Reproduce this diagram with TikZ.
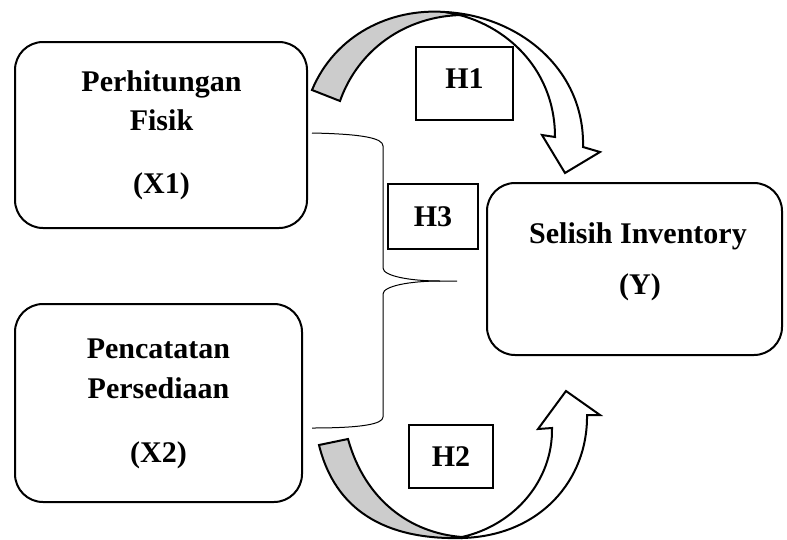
\documentclass[tikz,border=0pt]{standalone}
\usepackage{fontspec}
\setmainfont{Liberation Serif}
\begin{document}
\begin{tikzpicture}[x=1pt,y=-1pt,
  varbox/.style={draw=black,line width=2pt,rounded corners=28pt,inner sep=0pt,outer sep=0pt},
  hbox/.style={draw=black,line width=2pt,inner sep=0pt,font=\fontsize{30}{36}\selectfont\bfseries},
  lbl/.style={anchor=base,inner sep=0pt,font=\fontsize{30}{36}\selectfont\bfseries},
  band/.style={draw=black,line width=2pt,line join=miter},
  shade/.style={band,fill=gray!40},
  white/.style={band,fill=white},
  brace/.style={draw=black,line width=1pt}]
\useasboundingbox (0,0) rectangle (787,539);

% variable boxes
\node[varbox,minimum width=292pt,minimum height=186pt] (x1) at (161,135) {};
\node[varbox,minimum width=287pt,minimum height=198pt] (x2) at (158.5,403) {};
\node[varbox,minimum width=295pt,minimum height=172pt] (y) at (634.5,269) {};

\node[lbl] (x1a) at (161.5,91) {Perhitungan};
\node[lbl] (x1b) at (161.5,130) {Fisik};
\node[lbl] (x1c) at (161.5,193) {(X1)};
\node[lbl] (x2a) at (158.5,358) {Pencatatan};
\node[lbl] (x2b) at (158.5,398) {Persediaan};
\node[lbl] (x2c) at (158.5,462) {(X2)};
\node[lbl] (ya) at (638,243) {Selisih Inventory};
\node[lbl] (yb) at (640,294) {(Y)};

% upper curved arrow (H1)
\path[shade] (312,90) .. controls (335,35) and (390,8) .. (445,12)
  -- (462,15) .. controls (405,16) and (358,50) .. (340,101) -- cycle;
\path[white] (445,12) .. controls (500,20) and (555,65) .. (555,137)
  -- (542,135) -- (565,173) -- (600,152) -- (583,147)
  .. controls (585,70) and (520,16) .. (445,12) -- cycle;

% lower curved arrow (H2)
\path[shade] (319,445) .. controls (335,510) and (385,540) .. (462,538)
  -- (462,537) .. controls (410,533) and (365,500) .. (348,439) -- cycle;
\path[white] (462,538) .. controls (540,536) and (588,480) .. (587,415)
  -- (600,415) -- (566,391) -- (538,429) -- (552,428)
  .. controls (553,480) and (515,525) .. (462,537) -- cycle;

% brace
\coordinate (bt) at (312,133);
\coordinate (bb) at (312,428);
\coordinate (tip) at (457,281);
\draw[brace] (bt) .. controls (362,134) and (383,138) .. (383,146)
  -- (383,268) .. controls (383,276) and (410,281) .. (440,281) -- (tip);
\draw[brace] (440,281) .. controls (410,281) and (383,286) .. (383,294)
  -- (383,417) .. controls (383,424) and (362,428) .. (bb);

% hypothesis boxes
\node[hbox,minimum width=97pt,minimum height=73pt,text depth=9pt] (h1) at (464.5,83.5) {H1};
\node[hbox,minimum width=90pt,minimum height=65pt] (h3) at (433,216.5) {H3};
\node[hbox,minimum width=84pt,minimum height=63pt] (h2) at (451,456.5) {H2};
\end{tikzpicture}
\end{document}
